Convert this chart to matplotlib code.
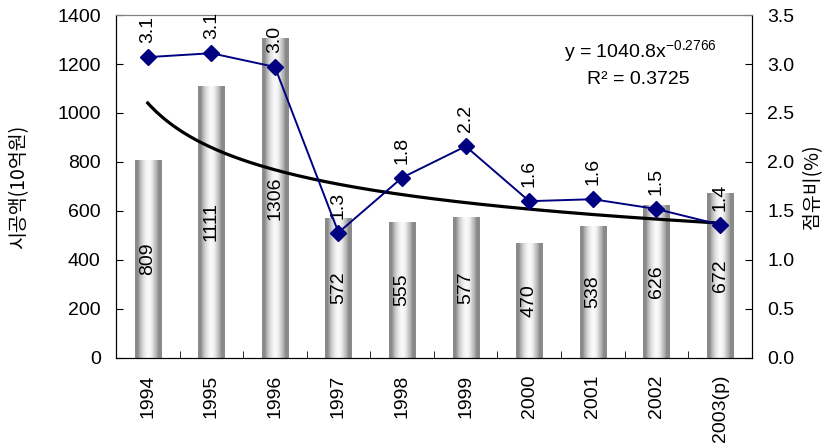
import numpy as np
import matplotlib
matplotlib.use("Agg")
import matplotlib.pyplot as plt

plt.rcParams['font.family'] = ['Liberation Sans', 'DejaVu Sans']
plt.rcParams['mathtext.default'] = 'regular'

years = ['1994', '1995', '1996', '1997', '1998', '1999', '2000', '2001', '2002', '2003(p)']
amount = [809, 1111, 1306, 572, 555, 577, 470, 538, 626, 672]          # 시공액 (10억원)
share = [3.07, 3.11, 2.97, 1.28, 1.84, 2.16, 1.60, 1.62, 1.52, 1.36]   # 점유비 (%)
trend_a, trend_b = 1040.8, -0.2766
r_squared = 0.3725

FS = 14
KFONT = ['Noto Sans CJK KR', 'Liberation Sans']

fig = plt.figure(figsize=(8.28, 4.48), dpi=100)
ax1 = fig.add_axes([0.140, 0.201, 0.768, 0.7655])
ax2 = ax1.twinx()

x = np.arange(len(years))

# cylinder-shaded bars
bars = ax1.bar(x, amount, width=0.41, facecolor='none', edgecolor='none', zorder=2)
levels = np.array([138, 138, 138, 150, 170, 185, 200, 212, 222, 230, 238, 244, 248,
                   248, 244, 236, 226, 214, 200, 188, 176, 160, 140, 138, 138, 138]) / 255.0
grad = np.tile(levels, (2, 1))
for b in bars:
    x0, w, h = b.get_x(), b.get_width(), b.get_height()
    im = ax1.imshow(grad, cmap='gray', vmin=0, vmax=1, aspect='auto',
                    extent=(x0, x0 + w, 0, h), interpolation='nearest', zorder=2)
    im.set_clip_path(b)
    ax1.text(x0 + w / 2, h / 2, f'{int(h)}', rotation=90, ha='center', va='center',
             fontsize=FS, zorder=4)

# power trend line
tx = np.linspace(1, len(years), 200)
ax1.plot(tx - 1, trend_a * tx ** trend_b, color='black', lw=2.3, zorder=3)

ax1.set_xlim(-0.5, len(years) - 0.5)
ax1.set_ylim(0, 1400)
ax1.set_yticks(range(0, 1401, 200))
ax1.set_xticks(x)
ax1.set_xticklabels(years, rotation=90, fontsize=FS)
ax1.set_xticks(np.arange(-0.5, len(years)), minor=True)
ax1.tick_params(axis='x', which='major', length=0, pad=12)
ax1.tick_params(axis='x', which='minor', direction='in', length=5)
ax1.tick_params(axis='y', direction='in', length=5, labelsize=FS, pad=11)
ax1.set_ylabel('시공액(10억원)', fontsize=14, family=KFONT, labelpad=20)

# share line
ax2.plot(x, share, color='#000080', lw=1.4, marker='D', markersize=8.5, zorder=5)
for xi, v in zip(x, share):
    ax2.annotate(f'{v:.1f}', (xi, v), xytext=(0, 10), textcoords='offset points',
                 rotation=90, ha='center', va='bottom', fontsize=FS)
ax2.set_ylim(0, 3.5)
ax2.set_yticks(np.arange(0, 3.51, 0.5))
ax2.set_yticklabels([f'{t:.1f}' for t in np.arange(0, 3.51, 0.5)])
ax2.tick_params(axis='y', direction='in', length=5, labelsize=FS, pad=11)
ax2.set_ylabel('점유비(%)', fontsize=14, family=KFONT, labelpad=6)

for a in (ax1, ax2):
    a.spines['top'].set_color('#808080')
    a.set_facecolor('none')

fig.text(0.773, 0.885, f'y = {trend_a}x$^{{{trend_b}}}$', ha='center', va='center', fontsize=FS)
fig.text(0.771, 0.822, f'R² = {r_squared}', ha='center', va='center', fontsize=FS)

fig.savefig('out.png', dpi=100)
